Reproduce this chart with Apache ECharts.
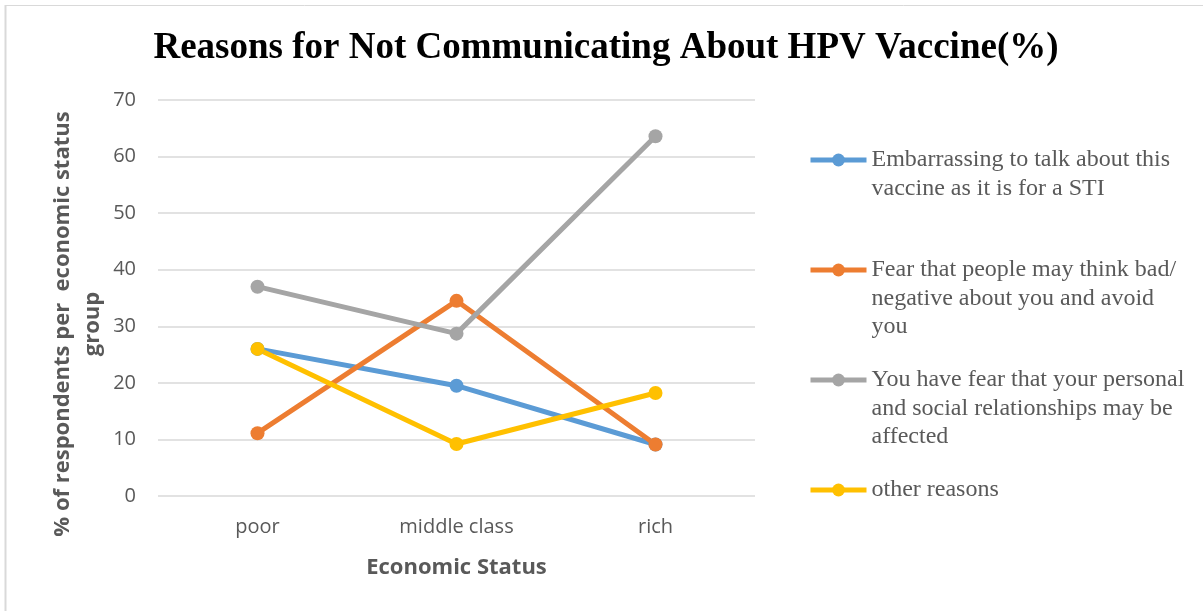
<!DOCTYPE html>
<html>
<head>
<meta charset="utf-8">
<script src="https://cdn.jsdelivr.net/npm/echarts@6/dist/echarts.min.js"></script>
<style>html,body{margin:0;padding:0;background:#fff}#c{width:1203px;height:611px}</style>
</head>
<body>
<div id="c"></div>
<script>
const titleText = 'Reasons for Not Communicating About HPV Vaccine(%)';
const categories = ['poor', 'middle class', 'rich'];
const seriesNames = [
  'Embarrassing to talk about this vaccine as it is for a STI',
  'Fear that people may think bad/ negative about you and avoid you',
  'You have fear that your personal and social relationships may be affected',
  'other reasons'
];
const legendLines = [
  ['Embarrassing to talk about this', 'vaccine as it is for a STI'],
  ['Fear that people may think bad/', 'negative about you and avoid', 'you'],
  ['You have fear that your personal', 'and social relationships may be', 'affected'],
  ['other reasons']
];
const embarrassing = [26, 19.5, 9.1];
const fearPeople = [11.1, 34.5, 9.1];
const fearRelationships = [37, 28.7, 63.6];
const otherReasons = [26, 9.2, 18.2];
const colors = ['#5B9BD5', '#ED7D31', '#A5A5A5', '#FFC000'];
const yTicks = [0, 10, 20, 30, 40, 50, 60, 70];

const seriesData = [embarrassing, fearPeople, fearRelationships, otherReasons];
const legendIconY = [160, 270, 380, 490];
const LH = 28.5;

const chart = echarts.init(document.getElementById('c'));
const legends = seriesNames.map((name, i) => {
  const lines = legendLines[i];
  const pre = lines.length - 1;
  const txt = Array(pre).fill('').concat(lines).join('\n');
  const blockH = (lines.length + pre) * LH;
  return {
    data: [name],
    left: 808,
    top: legendIconY[i] - blockH / 2,
    orient: 'vertical',
    padding: 0,
    itemWidth: 56,
    itemHeight: 16,
    selectedMode: false,
    lineStyle: { width: 5 },
    formatter: () => txt,
    textStyle: { fontFamily: '"Liberation Serif", serif', fontSize: 24, lineHeight: LH, color: '#595959' }
  };
});

chart.setOption({
  animation: false,
  backgroundColor: '#fff',
  color: colors,
  graphic: [
    { type: 'text', x: 606, y: 48.5,
      style: { text: titleText, font: 'bold 37px "Liberation Serif", serif', fill: '#000', textAlign: 'center', textVerticalAlign: 'middle' } },
    { type: 'line', shape: { x1: 5.5, y1: 5, x2: 5.5, y2: 611 }, style: { stroke: '#d9d9d9', lineWidth: 2 } },
    { type: 'line', shape: { x1: 5, y1: 5.5, x2: 1203, y2: 5.5 }, style: { stroke: '#d9d9d9', lineWidth: 1 } }
  ],
  legend: legends,
  grid: { left: 158, right: 448, top: 100, bottom: 115, containLabel: false },
  xAxis: {
    type: 'category',
    data: categories,
    boundaryGap: true,
    axisLine: { show: false },
    axisTick: { show: false },
    axisLabel: { color: '#595959', fontFamily: '"Open Sans", sans-serif', fontSize: 20, margin: 21 },
    name: 'Economic Status',
    nameLocation: 'middle',
    nameGap: 61,
    nameTextStyle: { color: '#595959', fontFamily: '"Open Sans", sans-serif', fontSize: 22, fontWeight: 'bold' }
  },
  yAxis: {
    type: 'value',
    min: 0, max: 70, interval: 10,
    axisLine: { show: false },
    axisTick: { show: false },
    splitLine: { lineStyle: { color: '#d9d9d9', width: 1.5 } },
    axisLabel: { color: '#595959', fontFamily: '"Open Sans", sans-serif', fontSize: 20, margin: 22,
      formatter: v => yTicks.includes(v) ? String(v) : '' },
    name: '% of respondents per  economic status\ngroup',
    nameLocation: 'middle',
    nameRotate: 90,
    nameGap: 50,
    nameTextStyle: { color: '#595959', fontFamily: '"Open Sans", sans-serif', fontSize: 22, fontWeight: 'bold', lineHeight: 30, padding: [0, 52, 0, 0] }
  },
  series: seriesNames.map((name, i) => ({
    name,
    type: 'line',
    data: seriesData[i],
    symbol: 'circle',
    symbolSize: 14,
    lineStyle: { width: 5, color: colors[i] },
    itemStyle: { color: colors[i] }
  }))
});
</script>
</body>
</html>
